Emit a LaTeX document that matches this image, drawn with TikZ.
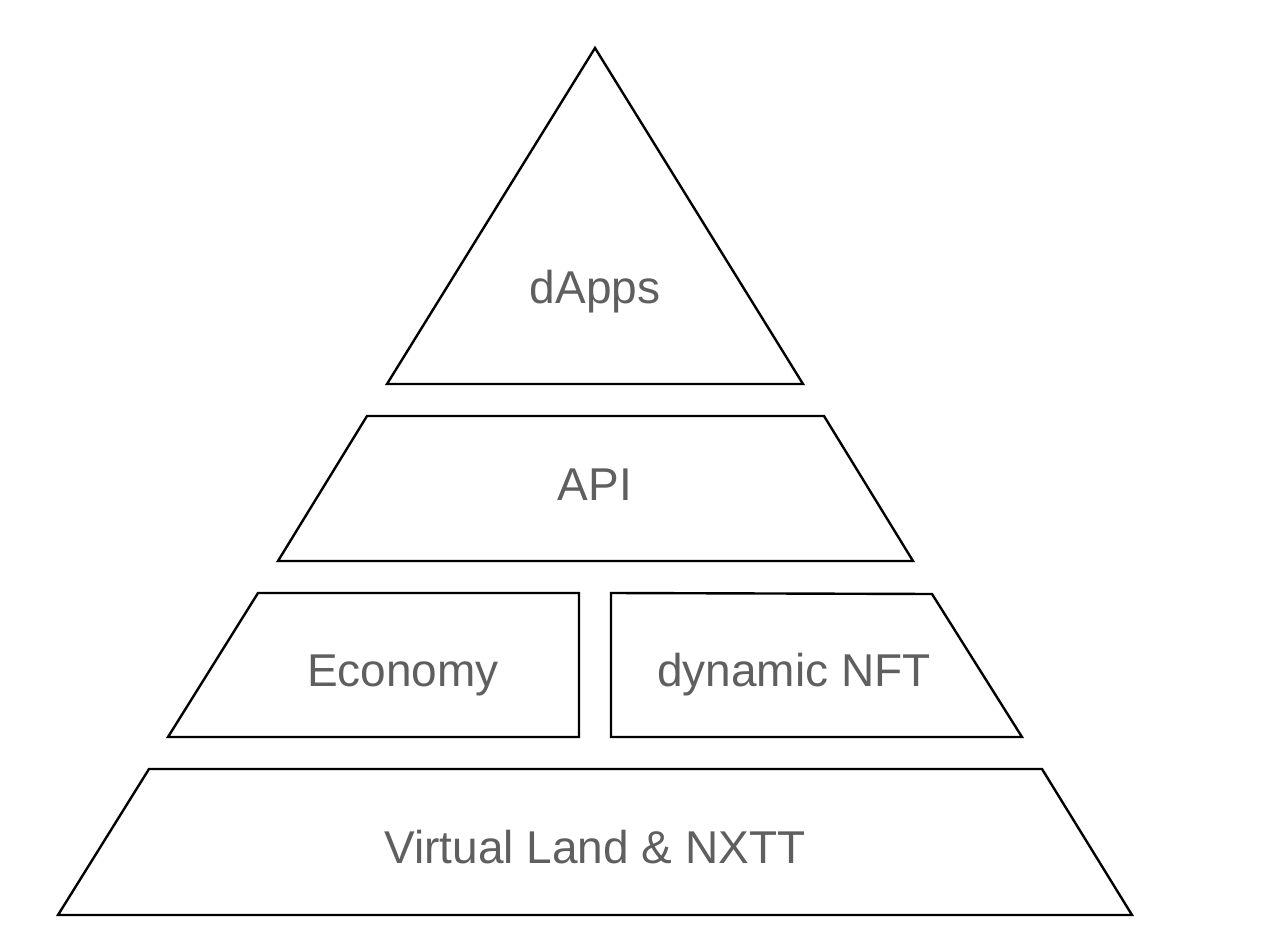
\documentclass[tikz,border=0pt]{standalone}
\usepackage{fontspec}
\setmainfont{Liberation Sans}
\definecolor{labelgray}{HTML}{5F5F5F}
\begin{document}
\begin{tikzpicture}[
			x=1pt,y=-1pt,
			layer/.style={draw=black,line width=2.4pt,line join=miter},
			label/.style={text=labelgray,font=\fontsize{46}{55}\selectfont,inner sep=0pt,anchor=base}
		]
		\useasboundingbox (0,0) rectangle (1272,944);
		% pyramid layers
		\draw[layer] (595,48) -- (803,384) -- (387,384) -- cycle;
		\draw[layer] (367,416) -- (824,416) -- (913,561) -- (278,561) -- cycle;
		\draw[layer] (258,593) -- (579,593) -- (579,737) -- (168,737) -- cycle;
		\draw[layer] (611,593) -- (932,594) -- (1022,737) -- (611,737) -- cycle;
		\draw[layer] (149,769) -- (1042,769) -- (1132,915) -- (58,915) -- cycle;
		% texts
		\node[label] (dapps) at (595,303.5) {dApps};
		\node[label] (api) at (595,500.5) {API};
		\node[label] (economy) at (403,686.5) {Economy};
		\node[label] (dnft) at (794,686.5) {dynamic NFT};
		\node[label] (land) at (595,863.5) {Virtual Land \& NXTT};
	\end{tikzpicture}
\end{document}
